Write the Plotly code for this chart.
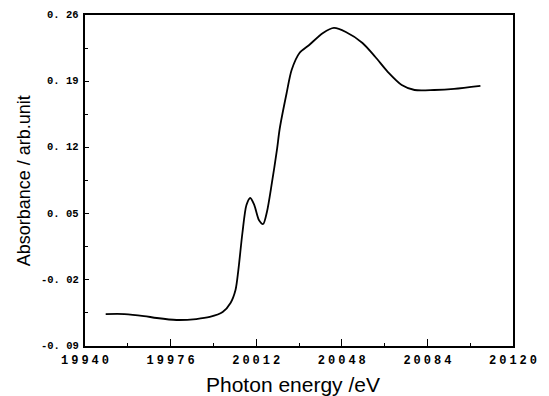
import plotly.graph_objects as go

# Data (photon energy in eV, absorbance in arb. units)
energy = [19948.7, 19956.6, 19964.8, 19970.2, 19978.5, 19986.8, 19992.5, 19997.9,
          20001.2, 20003.3, 20004.5, 20006.2, 20007.9, 20009.5, 20011.2, 20013.2,
          20014.9, 20016.5, 20018.6, 20020.7, 20021.9, 20024.8, 20026.9, 20030.2,
          20034.3, 20040.1, 20044.7, 20049.7, 20056.7, 20062.1, 20067.4, 20073.2,
          20078.6, 20086.9, 20095.2, 20106.3]
absorbance = [-0.0562, -0.0562, -0.0583, -0.0604, -0.0625, -0.0615, -0.0593, -0.0541,
              -0.0445, -0.0308, -0.0096, 0.0295, 0.059, 0.0665, 0.059, 0.043,
              0.039, 0.0517, 0.0824, 0.117, 0.140, 0.1775, 0.2018, 0.2198,
              0.2283, 0.241, 0.2463, 0.242, 0.2304, 0.2156, 0.1997, 0.186,
              0.1807, 0.1807, 0.1818, 0.185]

sp = "\u2005"
x_ticks = [19940, 19976, 20012, 20048, 20084, 20120]
x_labels = [sp.join(str(v)) for v in x_ticks]
y_ticks = [-0.09, -0.02, 0.05, 0.12, 0.19, 0.26]
y_labels = ["-0. 09", "-0. 02", "0. 05", "0. 12", "0. 19", "0. 26"]

fig = go.Figure()
fig.add_trace(go.Scatter(x=energy, y=absorbance, mode="lines",
                         line=dict(color="black", width=1.8, shape="spline", smoothing=0.8),
                         showlegend=False, hoverinfo="skip"))

xtickfont = dict(family="Liberation Mono", size=12, color="black", weight="bold")
ytickfont = dict(family="Liberation Mono", size=10.5, color="black", weight="bold")

# y tick labels drawn as annotations anchored at the tick values
ylabel_annots = [dict(text=t, xref="paper", yref="y", x=0, y=v, xanchor="right",
                      yanchor="middle", xshift=-4, showarrow=False, font=ytickfont)
                 for v, t in zip(y_ticks, y_labels)]

fig.update_layout(
    width=549, height=396,
    margin=dict(l=85, r=29, t=15, b=50),
    paper_bgcolor="white", plot_bgcolor="white",
    xaxis=dict(range=[19940, 20120], tickmode="array", tickvals=x_ticks, ticktext=x_labels,
               ticks="inside", ticklen=7, tickwidth=1.3, tickcolor="black",
               minor=dict(tickmode="array", tickvals=[19958, 19994, 20030, 20066, 20102],
                          ticks="inside", ticklen=3, tickwidth=1.3, tickcolor="black"),
               showline=True, linecolor="black", linewidth=1.5, mirror=True,
               showgrid=False, zeroline=False, tickfont=xtickfont, ticklabelstandoff=2),
    yaxis=dict(range=[-0.09, 0.26], tickmode="array", tickvals=y_ticks, showticklabels=False,
               ticks="inside", ticklen=4, tickwidth=1.3, tickcolor="black",
               minor=dict(tickmode="array", tickvals=[-0.055, 0.015, 0.085, 0.155, 0.225],
                          ticks="inside", ticklen=3, tickwidth=1.3, tickcolor="black"),
               showline=True, linecolor="black", linewidth=1.5, mirror=True,
               showgrid=False, zeroline=False),
    annotations=ylabel_annots + [
        dict(text="Photon energy /eV", xref="paper", yref="paper", x=0.485, y=-0.075,
             xanchor="center", yanchor="top", showarrow=False,
             font=dict(family="Liberation Sans", size=21, color="black")),
        dict(text="Absorbance / arb.unit", xref="paper", yref="paper", x=-0.115, y=0.5,
             xanchor="right", yanchor="middle", textangle=-90, showarrow=False,
             font=dict(family="Liberation Sans", size=18, color="black")),
    ],
)

fig.write_html("out.html")
